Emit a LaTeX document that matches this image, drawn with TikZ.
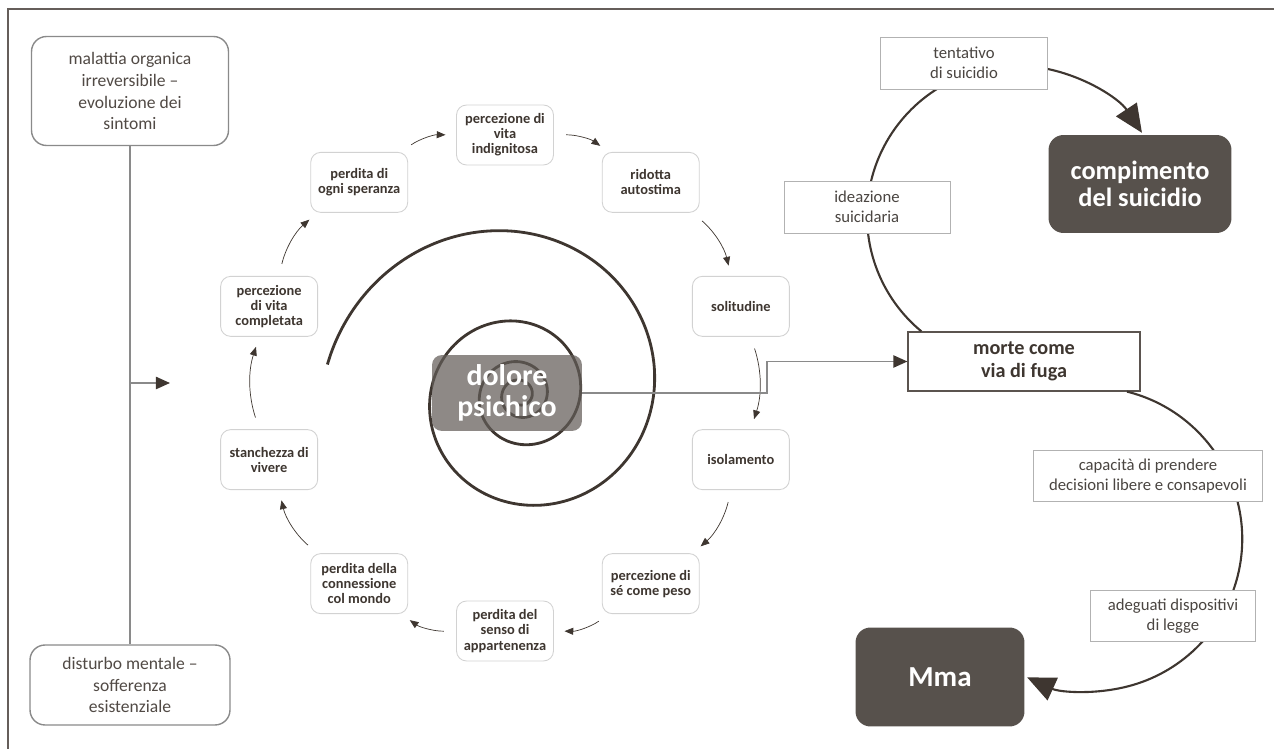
\documentclass[tikz,border=0pt]{standalone}
\usepackage{fontspec}
\setmainfont{Carlito}
\usetikzlibrary{arrows.meta,calc}
\definecolor{ink}{HTML}{3E3630}
\definecolor{darkbox}{HTML}{57514C}
\definecolor{painbox}{HTML}{625C58}
\definecolor{softline}{HTML}{D2D2D2}
\definecolor{greyline}{HTML}{8A8A8A}
\definecolor{labeltext}{HTML}{4A4541}
\tikzset{
  cycbox/.style={draw=softline,line width=0.5pt,rounded corners=0.2cm,fill=white,
    minimum width=1.94cm,minimum height=1.2cm,align=center,text=ink,
    font=\fontsize{8.2}{8.6}\selectfont\bfseries,inner sep=1pt},
  cycarrow/.style={ink,line width=0.4pt,-{Triangle[length=5pt,width=4pt]},
    shorten <=7pt,shorten >=6pt},
  causebox/.style={draw=greyline,line width=0.8pt,rounded corners=0.3cm,fill=white,
    align=center,text=ink!90,font=\fontsize{10}{12.5}\selectfont},
  finalbox/.style={fill=darkbox,rounded corners=0.3cm,text=white,align=center,
    font=\fontsize{15}{15.5}\selectfont\bfseries},
  painnode/.style={fill=painbox,fill opacity=0.72,text opacity=1,rounded corners=0.2cm,
    text=white,align=center,font=\fontsize{17}{17.5}\selectfont\bfseries,inner sep=1pt},
  labelbox/.style={draw=softline!85!black,line width=0.5pt,fill=white,align=center,
    text=labeltext,font=\fontsize{9.5}{11.3}\selectfont,inner sep=0pt},
  flowline/.style={draw=greyline,line width=0.8pt,-{Triangle[length=8pt,width=7pt,color=ink]}},
  loopline/.style={ink,line width=1.2pt,-{Triangle[length=16pt,width=14pt]}}
}
\begin{document}
\begin{tikzpicture}[x=0.02cm,y=0.02cm]
\useasboundingbox (0,0) rectangle (1274,-749);
\draw[ink!80,line width=0.9pt] (1274,-9) -- (8,-9) -- (8,-749);

% causes
\node[causebox,minimum width=3.94cm,minimum height=2.18cm] (malattia) at (130,-91) {malattia organica\\irreversibile –\\evoluzione dei\\sintomi};
\node[causebox,minimum width=4cm,minimum height=1.6cm] (disturbo) at (130,-685) {disturbo mentale –\\sofferenza\\esistenziale};
\draw[greyline,line width=0.8pt] (malattia) -- (disturbo);
\coordinate (junc) at (130,-383);
\coordinate (entry) at (170,-383);
\draw[flowline] (junc) -- (entry);

% spiral
\draw[ink,line width=1.6pt] plot[domain=171:-1200,samples=400,variable=\t,smooth]
  ({520+195*exp(-0.002218*(171-\t))*cos(\t)},{-395+195*exp(-0.002218*(171-\t))*sin(\t)});
\node[painnode,minimum width=3cm,minimum height=1.52cm] (dolore) at (507,-393) {dolore\\psichico};

% cycle
\coordinate (ring) at (505,-383);
\foreach \ang/\nm/\txt in {90/indegna/{percezione di\\vita\\indignitosa}, 54/autostima/{ridotta\\autostima},
  18/solitudine/{solitudine}, -18/isolamento/{isolamento}, -54/peso/{percezione di\\sé come peso},
  -90/appartenenza/{perdita del\\senso di\\appartenenza}, -126/connessione/{perdita della\\connessione\\col mondo},
  -162/stanchezza/{stanchezza di\\vivere}, 162/completata/{percezione\\di vita\\completata},
  126/speranza/{perdita di\\ogni speranza}}
  \node[cycbox] (\nm) at ([shift={(\ang:248)}]ring) {\txt};
\foreach \a/\b in {stanchezza/completata, completata/speranza, speranza/indegna, indegna/autostima,
  autostima/solitudine, solitudine/isolamento, isolamento/peso, peso/appartenenza,
  appartenenza/connessione, connessione/stanchezza}
  \draw[cycarrow] (\a) to[bend left=18] (\b);

% outcome
\node[draw=ink!85,line width=0.7pt,fill=white,minimum width=4.64cm,minimum height=1.18cm,align=center,
  text=ink,font=\fontsize{11.5}{13}\selectfont\bfseries] (morte) at (1024,-361.5) {morte come\\via di fuga};
\node[finalbox,minimum width=3.66cm,minimum height=1.96cm] (compimento) at (1140,-184) {compimento\\del suicidio};
\node[finalbox,minimum width=3.38cm,minimum height=1.98cm,font=\fontsize{16.5}{17}\selectfont\bfseries] (mma) at (940,-677) {Mma};
\coordinate (knee) at (767,-393);
\draw[flowline] (dolore.east) -- (knee) |- (morte.west);
\draw[loopline] ([xshift=0.28cm]morte.north west) arc[start angle=230.4,end angle=33.6,radius=150];
\draw[loopline] ([xshift=2.06cm]morte.south) arc[start angle=76,end angle=-114.5,radius=152];

\node[labelbox,minimum width=3.34cm,minimum height=1.04cm] (tentativo) at (964,-63) {tentativo\\di suicidio};
\node[labelbox,minimum width=3.32cm,minimum height=1.04cm] (ideazione) at (867,-207) {ideazione\\suicidaria};
\node[labelbox,minimum width=4.58cm,minimum height=1.02cm] (capacita) at (1148,-476) {capacità di prendere\\decisioni libere e consapevoli};
\node[labelbox,minimum width=3.3cm,minimum height=1.02cm] (dispositivi) at (1173,-616) {adeguati dispositivi\\di legge};
\end{tikzpicture}
\end{document}
